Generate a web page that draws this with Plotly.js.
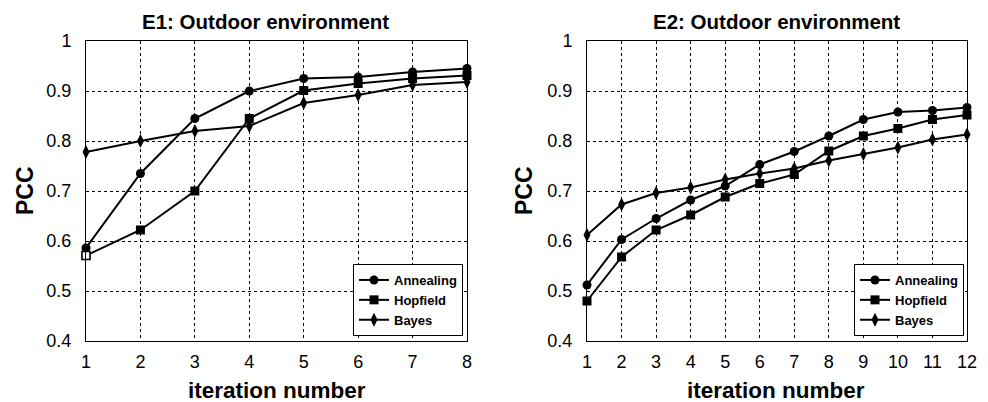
<!DOCTYPE html>
<html>
<head>
<meta charset="utf-8">
<script src="https://cdn.plot.ly/plotly-3.0.1.min.js"></script>
<style>html,body{margin:0;padding:0;background:#fff;}#chart{width:988px;height:402px;}</style>
</head>
<body>
<div id="chart"></div>
<script>
// ---- data ----
const seriesNames = ["Annealing", "Hopfield", "Bayes"];
const iterE1 = [1, 2, 3, 4, 5, 6, 7, 8];
const annealingE1 = [0.586, 0.735, 0.845, 0.900, 0.925, 0.928, 0.938, 0.945];
const hopfieldE1  = [0.571, 0.622, 0.700, 0.845, 0.901, 0.915, 0.925, 0.931];
const bayesE1     = [0.778, 0.800, 0.820, 0.830, 0.876, 0.892, 0.912, 0.918];

const iterE2 = [1, 2, 3, 4, 5, 6, 7, 8, 9, 10, 11, 12];
const annealingE2 = [0.512, 0.603, 0.645, 0.682, 0.710, 0.753, 0.779, 0.810, 0.843, 0.858, 0.861, 0.867];
const hopfieldE2  = [0.480, 0.568, 0.622, 0.652, 0.688, 0.715, 0.733, 0.780, 0.810, 0.825, 0.843, 0.852];
const bayesE2     = [0.612, 0.673, 0.696, 0.707, 0.723, 0.735, 0.745, 0.761, 0.774, 0.787, 0.803, 0.813];

const titles = ["E1: Outdoor environment", "E2: Outdoor environment"];
const yTitle = "PCC";
const xTitle = "iteration number";

// ---- styling ----
const FONT = "Arial, 'Liberation Sans', sans-serif";
const symbols = ["circle", "square", "diamond-tall"];
const sizes = [9, 9, 10];

function mk(x, y, i, xa, ya, lg) {
  return {
    x: x, y: y, name: seriesNames[i], type: "scatter", mode: "lines+markers",
    xaxis: xa, yaxis: ya, legend: lg, showlegend: true, cliponaxis: false,
    line: {color: "#000", width: 2},
    marker: {symbol: symbols[i], size: sizes[i], color: "#000", line: {width: 0}}
  };
}

const data = [
  mk(iterE1, annealingE1, 0, "x", "y", "legend"),
  mk(iterE1, hopfieldE1, 1, "x", "y", "legend"),
  mk(iterE1, bayesE1, 2, "x", "y", "legend"),
  // hollow-looking first Hopfield point in E1
  {x: iterE1.slice(0, 1), y: hopfieldE1.slice(0, 1), type: "scatter", mode: "markers",
   xaxis: "x", yaxis: "y", showlegend: false, cliponaxis: false,
   marker: {symbol: "square", size: 8, color: "#fff", line: {color: "#000", width: 1.5}}},
  mk(iterE2, annealingE2, 0, "x2", "y2", "legend2"),
  mk(iterE2, hopfieldE2, 1, "x2", "y2", "legend2"),
  mk(iterE2, bayesE2, 2, "x2", "y2", "legend2")
];

const W = 988, H = 402;
const px = v => v / W, py = v => 1 - v / H;

const axBase = {
  showline: true, linecolor: "#000", linewidth: 1, mirror: true,
  showgrid: true, gridcolor: "#000", gridwidth: 1, griddash: "dot",
  zeroline: false, ticks: "", ticklabelstandoff: 4,
  tickfont: {family: FONT, size: 18, color: "#000"}
};

const legBase = {
  xanchor: "right", y: py(336), yanchor: "bottom",
  bgcolor: "#fff", bordercolor: "#000", borderwidth: 1,
  font: {family: FONT, size: 13, color: "#000", weight: "bold"}, tracegroupgap: 0, itemwidth: 30
};

function ann(text, x, y, size, angle) {
  return {text: "<b>" + text + "</b>", xref: "paper", yref: "paper", x: px(x), y: py(y),
          xanchor: "center", yanchor: "middle", showarrow: false, textangle: angle || 0,
          font: {family: FONT, size: size, color: "#000"}};
}

const layout = {
  width: W, height: H,
  margin: {l: 0, r: 0, t: 0, b: 0},
  paper_bgcolor: "#fff", plot_bgcolor: "#fff",
  font: {family: FONT, color: "#000"},
  xaxis: Object.assign({}, axBase, {domain: [px(86), px(467)], range: [1, 8], dtick: 1, tick0: 1, anchor: "y"}),
  yaxis: Object.assign({}, axBase, {domain: [py(341), py(41)], range: [0.4, 1], dtick: 0.1, tick0: 0.4, anchor: "x", ticklabelstandoff: 10}),
  xaxis2: Object.assign({}, axBase, {domain: [px(587), px(967)], range: [1, 12], dtick: 1, tick0: 1, anchor: "y2"}),
  yaxis2: Object.assign({}, axBase, {domain: [py(341), py(41)], range: [0.4, 1], dtick: 0.1, tick0: 0.4, anchor: "x2", ticklabelstandoff: 10}),
  legend: Object.assign({}, legBase, {x: px(463)}),
  legend2: Object.assign({}, legBase, {x: px(964)}),
  annotations: [
    ann(titles[0], 265, 22, 20.5),
    ann(titles[1], 776, 22, 20.5),
    ann(yTitle, 25, 191, 23, -90),
    ann(yTitle, 524, 191, 23, -90),
    ann(xTitle, 277, 390, 22.5),
    ann(xTitle, 776, 390, 22.5)
  ]
};

Plotly.newPlot("chart", data, layout, {staticPlot: true, displayModeBar: false});
</script>
</body>
</html>
